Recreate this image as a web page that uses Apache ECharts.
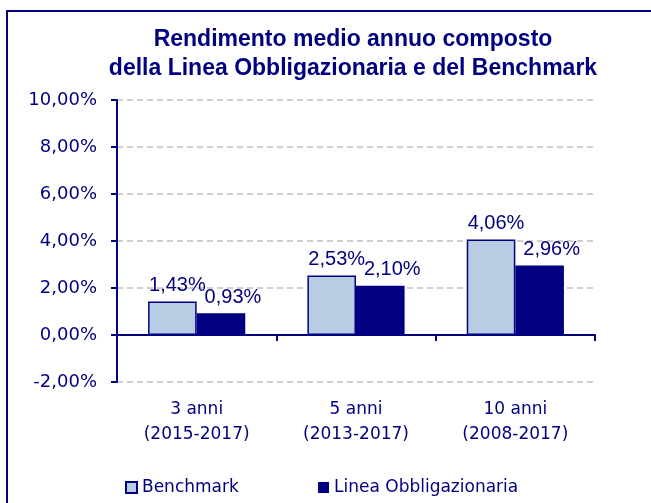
<!DOCTYPE html>
<html lang="it">
<head>
<meta charset="UTF-8">
<title>Rendimento medio annuo composto</title>
<style>
    html, body { margin: 0; padding: 0; background: #fff; }
    #chart { width: 651px; height: 503px; }
</style>
</head>
<body>
<div id="chart"></div>
<script src="https://cdn.jsdelivr.net/npm/echarts@6/dist/echarts.min.js"></script>
<script>
// dati
var categories = ['3 anni\n(2015-2017)', '5 anni\n(2013-2017)', '10 anni\n(2008-2017)'];
var benchmark = [1.43, 2.53, 4.06];
var lineaObbl = [0.93, 2.10, 2.96];
var yTicks = { min: -2, max: 10, step: 2 };

var NAVY = '#000080';
var LIGHT = '#b8cce4';

function pct(v) {
    return v.toFixed(2).replace('.', ',') + '%';
}

var chart = echarts.init(document.getElementById('chart'));

var option = {
    animation: false,
    backgroundColor: '#fff',
    graphic: [{
        // cornice esterna
        type: 'rect',
        shape: { x: 7, y: 11, width: 700, height: 600 },
        style: { fill: 'none', stroke: NAVY, lineWidth: 2 }
    }],
    title: {
        text: 'Rendimento medio annuo composto\ndella Linea Obbligazionaria e del Benchmark',
        left: 348,
        textAlign: 'center',
        top: 20,
        textStyle: {
            color: NAVY,
            fontFamily: 'Liberation Sans',
            fontWeight: 'bold',
            fontSize: 23,
            lineHeight: 29
        }
    },
    legend: [{
        data: ['Benchmark'],
        left: 120,
        top: 474,
        icon: 'rect',
        itemWidth: 11,
        itemHeight: 11,
        itemGap: 5,
        textStyle: { color: NAVY, fontFamily: 'DejaVu Sans', fontSize: 17 }
    }, {
        data: ['Linea Obbligazionaria'],
        left: 313,
        top: 474,
        icon: 'rect',
        itemWidth: 11,
        itemHeight: 11,
        textStyle: { color: NAVY, fontFamily: 'DejaVu Sans', fontSize: 17 }
    }],
    grid: { left: 117, top: 100, right: 56, bottom: 121 },
    xAxis: [{
        // etichette in basso
        type: 'category',
        data: categories,
        position: 'bottom',
        axisLine: { show: false, onZero: false },
        axisTick: { show: false },
        axisLabel: {
            color: NAVY,
            fontFamily: 'DejaVu Sans',
            fontSize: 17,
            lineHeight: 25,
            margin: 15
        }
    }, {
        // linea dello zero
        type: 'category',
        data: categories,
        position: 'top',
        axisLine: { show: true, onZero: true, lineStyle: { color: NAVY, width: 2 } },
        axisTick: { show: true, inside: true, length: 6, lineStyle: { color: NAVY, width: 2 } },
        axisLabel: { show: false }
    }],
    yAxis: {
        type: 'value',
        min: yTicks.min,
        max: yTicks.max,
        interval: yTicks.step,
        axisLine: { show: true, lineStyle: { color: NAVY, width: 2 } },
        axisTick: { show: true, length: 6, lineStyle: { color: NAVY, width: 2 } },
        axisLabel: {
            color: NAVY,
            fontFamily: 'DejaVu Sans',
            fontSize: 18,
            margin: 20,
            formatter: pct
        },
        splitLine: { lineStyle: { color: '#c0c0c0', type: [6, 4], width: 1.5 } }
    },
    series: [{
        name: 'Benchmark',
        type: 'bar',
        data: benchmark,
        barGap: '0%',
        barCategoryGap: '39%',
        itemStyle: { color: LIGHT, borderColor: NAVY, borderWidth: 1.5 },
        label: {
            show: true,
            position: 'top',
            distance: 6,
            offset: [5, 0],
            color: NAVY,
            fontFamily: 'Liberation Sans',
            fontSize: 20,
            formatter: function (p) { return pct(p.value); }
        }
    }, {
        name: 'Linea Obbligazionaria',
        type: 'bar',
        data: lineaObbl,
        itemStyle: { color: NAVY },
        label: {
            show: true,
            position: 'top',
            distance: 6,
            offset: [12, 0],
            color: NAVY,
            fontFamily: 'Liberation Sans',
            fontSize: 20,
            formatter: function (p) { return pct(p.value); }
        }
    }]
};

chart.setOption(option);
</script>
</body>
</html>
